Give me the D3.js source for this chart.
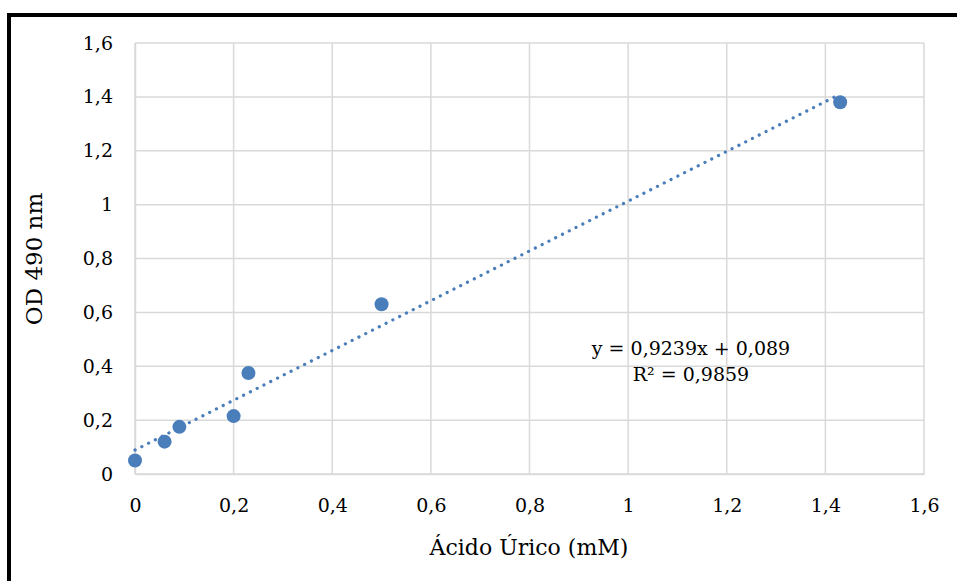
<!DOCTYPE html>
<html>
<head>
<meta charset="utf-8">
<script src="https://cdn.jsdelivr.net/npm/d3@7"></script>
<style>
  body { margin: 0; background: #fff; }
  svg text { font-family: "DejaVu Serif", serif; fill: #000; }
</style>
</head>
<body>
<svg id="drawspace" width="957" height="581"></svg>
<script>
let drawSpace = d3.select("#drawspace");

// data
let acido = [0, 0.06, 0.09, 0.2, 0.23, 0.5, 1.43];
let od = [0.05, 0.12, 0.175, 0.215, 0.375, 0.63, 1.38];
let slope = 0.9239;
let intercept = 0.089;
let xTicks = [0, 0.2, 0.4, 0.6, 0.8, 1, 1.2, 1.4, 1.6];
let yTicks = [0, 0.2, 0.4, 0.6, 0.8, 1, 1.2, 1.4, 1.6];
let eqLines = ["y = 0,9239x + 0,089", "R² = 0,9859"];

let blue = "#4a7ebb";
let grid = "#d9d9d9";
let serif = "'DejaVu Serif', serif";

let plotL = 135, plotR = 924, plotT = 43, plotB = 474;

let x = d3.scaleLinear().domain([0, 1.6]).range([plotL, plotR]);
let y = d3.scaleLinear().domain([0, 1.6]).range([plotB, plotT]);

let fmt = d => String(d).replace(".", ",");

// outer frame
drawSpace.append("rect")
  .attr("x", 9).attr("y", 15)
  .attr("width", 980).attr("height", 600)
  .attr("fill", "white")
  .attr("stroke", "black")
  .attr("stroke-width", 4);

// gridlines
drawSpace.append("g")
  .selectAll("line")
  .data(xTicks)
  .enter()
  .append("line")
  .attr("x1", d => x(d)).attr("x2", d => x(d))
  .attr("y1", plotT).attr("y2", plotB)
  .attr("stroke", grid).attr("stroke-width", 1.5);

drawSpace.append("g")
  .selectAll("line")
  .data(yTicks)
  .enter()
  .append("line")
  .attr("x1", plotL).attr("x2", plotR)
  .attr("y1", d => y(d)).attr("y2", d => y(d))
  .attr("stroke", grid).attr("stroke-width", 1.5);

// axes (labels only, Excel-like)
let xAxis = drawSpace.append("g")
  .attr("transform", "translate(0," + plotB + ")")
  .call(d3.axisBottom(x).tickValues(xTicks).tickFormat(fmt).tickSize(0).tickPadding(25));
xAxis.attr("font-family", serif).attr("font-size", 19);
xAxis.select(".domain").attr("stroke", grid).attr("stroke-width", 1.5);

let yAxis = drawSpace.append("g")
  .attr("transform", "translate(" + plotL + ",0)")
  .call(d3.axisLeft(y).tickValues(yTicks).tickFormat(fmt).tickSize(0).tickPadding(22));
yAxis.attr("font-family", serif).attr("font-size", 19);
yAxis.select(".domain").attr("stroke", grid).attr("stroke-width", 1.5);

// trendline
let xEnd = d3.max(acido);
drawSpace.append("line")
  .attr("x1", x(0)).attr("y1", y(intercept))
  .attr("x2", x(xEnd)).attr("y2", y(slope * xEnd + intercept))
  .attr("stroke", blue)
  .attr("stroke-width", 3.2)
  .attr("stroke-linecap", "round")
  .attr("stroke-dasharray", "0.1 7.5");

// points
drawSpace.append("g")
  .selectAll("circle")
  .data(acido)
  .enter()
  .append("circle")
  .attr("cx", d => x(d))
  .attr("cy", (d, i) => y(od[i]))
  .attr("r", 7)
  .attr("fill", blue);

// equation
drawSpace.append("g")
  .selectAll("text")
  .data(eqLines)
  .enter()
  .append("text")
  .attr("x", 691)
  .attr("y", (d, i) => 355 + i * 26)
  .attr("text-anchor", "middle")
  .style("font-size", "19px")
  .text(d => d);

// axis titles
drawSpace.append("text")
  .attr("x", 529)
  .attr("y", 555)
  .attr("text-anchor", "middle")
  .style("font-size", "22px")
  .text("Ácido Úrico (mM)");

drawSpace.append("text")
  .attr("transform", "translate(42," + 259 + ") rotate(-90)")
  .attr("text-anchor", "middle")
  .style("font-size", "23px")
  .text("OD 490 nm");
</script>
</body>
</html>
